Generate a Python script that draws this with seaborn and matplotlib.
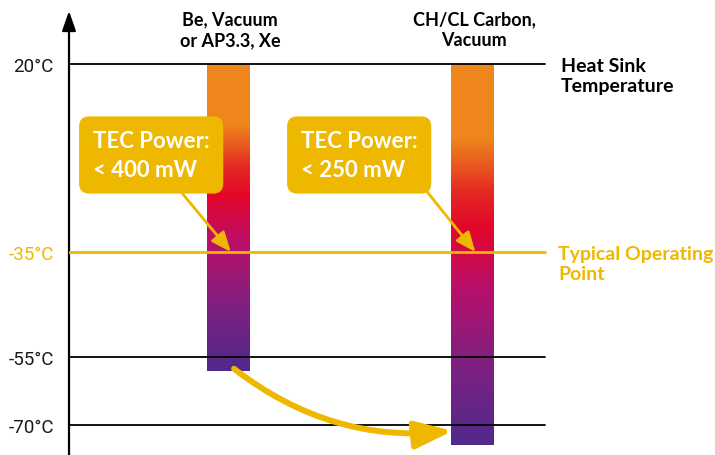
import numpy as np
import matplotlib
matplotlib.use("Agg")
import matplotlib.pyplot as plt
import seaborn as sns
from matplotlib.colors import LinearSegmentedColormap

# data
materials = ["Be, Vacuum\nor AP3.3, Xe", "CH/CL Carbon,\nVacuum"]
bar_top = [20, 20]
bar_bottom = [-58, -74.4]
tec_labels = ["TEC Power:\n< 400 mW", "TEC Power:\n< 250 mW"]
tick_temps = [20, -35, -55, -70]
tick_labels = ["20°C", "-35°C", "-55°C", "-70°C"]
operating_temp = -35

GOLD = "#EFB800"

sns.set_theme(style="white")
plt.rcParams["font.family"] = ["Lato", "DejaVu Sans"]

# schematic temperature axis (piecewise linear, not to scale)
knot_t = np.array([-90, -70, -55, -35, 20, 60])
knot_p = np.array([516.6, 426, 358, 253, 65, -71.8])


def fwd(t):
    return -np.interp(t, knot_t, knot_p)


def inv(v):
    return np.interp(v, -knot_p, knot_t)


fig = plt.figure(figsize=(7.15, 4.56), dpi=100)
ax = fig.add_axes([69 / 715, 0, 646 / 715, 444 / 456])
ax.set_yscale("function", functions=(fwd, inv))
ax.set_xlim(-0.650, 1.992)
ax.set_ylim(inv(-456), inv(-12))
for s in ax.spines.values():
    s.set_visible(False)
ax.set_xticks([])
ax.set_yticks(tick_temps)
ax.set_yticklabels(tick_labels, fontfamily="Roboto", fontsize=13.5, color="#1a1a1a")
ax.get_yticklabels()[1].set_color(GOLD)
ax.tick_params(axis="y", length=0, pad=11)
ax.grid(False)

# y axis with arrow
ax.annotate("", xy=(0, 1), xytext=(0, 0), xycoords="axes fraction",
            arrowprops=dict(arrowstyle="-|>,head_length=1.0,head_width=0.35",
                            mutation_scale=12, lw=1.6, color="black",
                            shrinkA=0, shrinkB=0))

# reference lines
line_end = 476 / 646
for t in tick_temps:
    if t == operating_temp:
        ax.axhline(t, xmin=0, xmax=line_end, color=GOLD, lw=2, zorder=3)
    else:
        ax.axhline(t, xmin=0, xmax=line_end, color="black", lw=1.3, zorder=3)

# gradient bars
cmap = LinearSegmentedColormap.from_list("heat", [
    (0.0, "#EF861D"), (0.19, "#EF871D"), (0.27, "#E9561F"), (0.33, "#E42B22"),
    (0.43, "#E3062B"), (0.58, "#BA0F69"), (0.8, "#7C2181"), (1.0, "#50298B")])
bw = 0.172
xs = np.arange(len(materials))
bars = ax.bar(xs, np.subtract(bar_bottom, bar_top), bottom=bar_top, width=bw,
              color="none", lw=0, zorder=2)
trans = ax.transData + ax.transAxes.inverted()
grad = np.linspace(0, 1, 256).reshape(-1, 1)
for x, top, bot, patch in zip(xs, bar_top, bar_bottom, bars.patches):
    (x0, y0), (x1, y1) = trans.transform([[x - bw / 2, bot], [x + bw / 2, top]])
    im = ax.imshow(grad, extent=[x0, x1, y0, y1], transform=ax.transAxes,
                   aspect="auto", cmap=cmap, origin="upper", zorder=2)
    im.set_clip_path(patch)

# material labels
for x, lab in zip(xs, materials):
    ax.annotate(lab, xy=(x, bar_top[0]), xytext=(2, 16), textcoords="offset pixels",
                ha="center", va="bottom", fontsize=13, fontweight="bold",
                color="black", linespacing=1.25)

# right labels
ax.annotate("Heat Sink\nTemperature", xy=(0.7616, 20), xycoords=("axes fraction", "data"),
            xytext=(0, -11.5), textcoords="offset pixels", ha="left", va="center",
            fontsize=14, fontweight="bold", color="black", linespacing=1.2)
ax.annotate("Typical Operating\nPoint", xy=(0.757, operating_temp),
            xycoords=("axes fraction", "data"), xytext=(0, -11.5),
            textcoords="offset pixels", ha="left", va="center",
            fontsize=14, fontweight="bold", color=GOLD, linespacing=1.2)

# TEC power call-outs
offsets = [(-138, 97), (-174.5, 97)]
relpos = [(0.67, 0), (1.0, 0)]
for x, lab, off, rp in zip(xs, tec_labels, offsets, relpos):
    ax.annotate(lab, xy=(x + 0.012, operating_temp), xytext=off,
                textcoords="offset pixels", ha="left", va="center",
                fontsize=16, fontweight="bold", color="white", linespacing=1.45,
                bbox=dict(boxstyle="round,pad=0.62,rounding_size=0.45", fc=GOLD, ec="none"),
                arrowprops=dict(arrowstyle="-|>,head_length=1.2,head_width=0.5",
                                mutation_scale=10, lw=2.0, color=GOLD, relpos=rp,
                                shrinkA=0, shrinkB=0),
                zorder=4)

# curved arrow between the bars
ax.annotate("", xy=(1 - bw / 2 + 0.005, -71.3), xytext=(0.025, bar_bottom[0] + 0.4),
            arrowprops=dict(arrowstyle="-|>,head_length=1.5,head_width=0.55",
                            mutation_scale=15, lw=4.3, color=GOLD,
                            connectionstyle="arc3,rad=0.2", shrinkA=0, shrinkB=0),
            zorder=4)

plt.savefig("out.png", dpi=100)
